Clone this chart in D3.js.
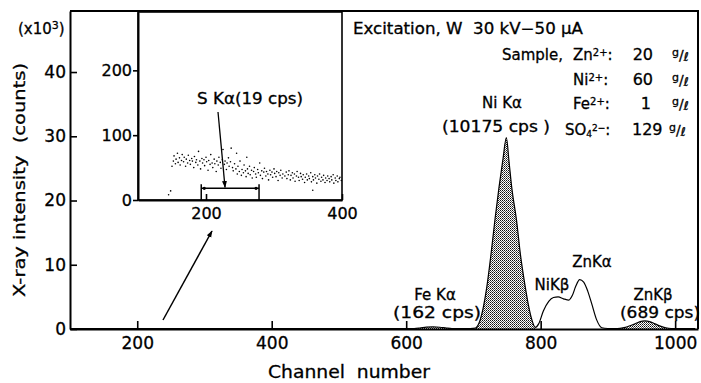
<!DOCTYPE html>
<html><head><meta charset="utf-8">
<script src="https://cdn.jsdelivr.net/npm/d3@7/dist/d3.min.js"></script>
<style>
html,body{margin:0;padding:0;background:#fff;}
svg{display:block;font-family:"DejaVu Sans",sans-serif;}
text{fill:#000;white-space:pre;stroke:#000;stroke-width:0.3px;}
</style></head><body>
<svg id="c" width="701" height="383"></svg>
<script>
// ---- data ----
const xTicks = [200, 400, 600, 800, 1000];
const yTicks = [0, 10, 20, 30, 40];
const insetXTicks = [200, 400];
const insetYTicks = [0, 100, 200];

// main spectrum: channel number vs counts (x10^3)
const channels = [100,150,200,250,300,350,400,450,500,550,600,612,620,630,640,650,660,668,680,695,
  703,710,720,726,732,738,744,749,753,757,764,770,777,782,787,792,797,804,812,819,826,834,842,847,
  852,858,864,870,876,883,891,900,910,918,926,934,942,948,955,962,970,978,986,994,1005,1020,1030];
const counts = [0.05,0.08,0.06,0.05,0.07,0.05,0.06,0.05,0.05,0.05,0.06,0.08,0.15,0.28,0.32,0.27,0.15,0.08,0.06,0.08,
  0.15,1.4,6.6,11.5,17,22,26.5,29.8,26,22,17,11.5,6.6,3.6,1.4,0.25,0.8,2.8,4.3,4.9,5.0,4.7,4.5,5.2,
  6.6,7.7,7.3,5.9,3.9,1.5,0.2,0.08,0.06,0.1,0.25,0.55,0.9,1.15,1.25,1.15,0.8,0.45,0.2,0.08,0.06,0.05,0.05];
// shaded (stippled) peaks: FeKa, NiKa, ZnKb
const shadedRanges = [[612, 668], [703, 792], [918, 994]];

// inset scatter: channel vs counts
const insetChannels = [145,148,150,152,153,155,156,158,159,161,162,164,165,167,168,170,171,173,174,176,177,179,180,182,183,185,186,188,189,191,192,194,195,197,198,200,201,203,204,206,207,209,210,212,213,215,216,218,219,221,222,224,225,227,228,230,231,233,234,236,237,239,240,
  242,244,245,246,247,249,250,252,253,255,256,258,259,260,261,262,264,265,267,268,270,271,273,274,276,277,279,280,282,283,285,286,288,289,291,292,294,295,297,298,300,301,303,304,306,307,309,310,312,313,316,318,319,321,322,324,325,327,328,330,331,333,334,336,337,339,340,342,343,345,346,348,349,351,352,354,355,357,357,358,360,361,363,364,366,367,369,370,372,373,375,376,378,379,381,382,384,385,387,388,390,391,393,394,396,397,399];
const insetCounts = [8,14,52,60,68,56,63,72,58,65,54,61,70,59,66,52,63,57,69,61,55,64,60,50,67,58,62,54,75,60,48,64,57,62,53,66,59,46,61,55,70,57,50,63,56,44,60,54,66,58,49,62,78,55,60,47,57,65,52,59,80,50,45,
  56,48,72,40,52,44,60,38,47,42,54,45,36,66,48,41,52,39,46,34,44,50,40,35,47,42,57,38,45,33,43,49,37,44,40,31,46,39,43,35,48,41,36,44,30,42,38,46,34,40,37,43,33,39,45,31,38,42,34,40,29,37,44,35,30,41,36,32,39,27,35,40,31,37,33,42,28,36,15,31,39,34,26,37,32,40,29,35,31,38,27,34,30,37,33,28,36,31,39,26,34,30,37,28,33,35,30];
const roiRange = [193, 278];

// ---- drawing ----
const svg = d3.select("#c");
const FONT = '"DejaVu Sans", sans-serif';
const x = d3.scaleLinear().domain([100, 1034]).range([70, 698]);
const y = d3.scaleLinear().domain([0, 49.5]).range([329, 11]);
const ix = d3.scaleLinear().domain([100, 400]).range([138, 342]);
const iy = d3.scaleLinear().domain([0, 290]).range([200, 12]);

const defs = svg.append("defs");
const pat = defs.append("pattern").attr("id", "stip").attr("width", 2).attr("height", 2)
  .attr("patternUnits", "userSpaceOnUse");
pat.append("rect").attr("width", 2).attr("height", 2).attr("fill", "#fff");
pat.append("rect").attr("x", 0).attr("y", 0).attr("width", 1).attr("height", 1).attr("fill", "#111");
pat.append("rect").attr("x", 1).attr("y", 1).attr("width", 1).attr("height", 1).attr("fill", "#555");
defs.append("marker").attr("id", "ah").attr("viewBox", "0 0 10 10").attr("refX", 9).attr("refY", 5)
  .attr("markerWidth", 7).attr("markerHeight", 7).attr("orient", "auto-start-reverse")
  .attr("markerUnits", "userSpaceOnUse")
  .append("path").attr("d", "M0,1.5 L10,5 L0,8.5 Z").attr("fill", "#000");

const data = channels.map((c, i) => ({c, v: counts[i]}));

// shaded areas
const area = d3.area().x(d => x(d.c)).y0(y(0)).y1(d => y(d.v)).curve(d3.curveMonotoneX);
shadedRanges.forEach(r => {
  svg.append("path").datum(data.filter(d => d.c >= r[0] && d.c <= r[1]))
    .attr("d", area).attr("fill", "url(#stip)").attr("stroke", "none");
});
// spectrum line
const line = d3.line().x(d => x(d.c)).y(d => y(d.v)).curve(d3.curveMonotoneX);
svg.append("path").datum(data).attr("d", line).attr("fill", "none").attr("stroke", "#000").attr("stroke-width", 1.2);

// main axes
function styleAxis(g, size) {
  g.attr("font-family", FONT).attr("font-size", size);
  g.select(".domain").attr("stroke-width", 2);
  g.selectAll(".tick line").attr("stroke-width", 1.6);
  g.selectAll(".tick text").attr("fill", "#000");
}
svg.append("g").attr("transform", "translate(0,329)")
  .call(d3.axisBottom(x).tickValues(xTicks).tickSize(-8).tickSizeOuter(0).tickPadding(8).tickFormat(d3.format("d")))
  .call(g => styleAxis(g, 17));
svg.append("g").attr("transform", "translate(70,0)")
  .call(d3.axisLeft(y).tickValues(yTicks).tickSize(-7).tickSizeOuter(0).tickPadding(4).tickFormat(d3.format("d")))
  .call(g => styleAxis(g, 17));
// frame top & right
svg.append("path").attr("d", `M${x.range()[0]},${y.range()[1]} H${x.range()[1]} V${y(0)}`)
  .attr("fill", "none").attr("stroke", "#000").attr("stroke-width", 2);

// inset
svg.append("rect").attr("x", ix.range()[0]).attr("y", iy.range()[1])
  .attr("width", ix.range()[1] - ix.range()[0]).attr("height", iy.range()[0] - iy.range()[1])
  .attr("fill", "#fff").attr("stroke", "#000").attr("stroke-width", 1.6);
svg.append("g").attr("transform", `translate(0,${iy(0)})`)
  .call(d3.axisBottom(ix).tickValues(insetXTicks).tickSize(-6).tickSizeOuter(0).tickPadding(8).tickFormat(d3.format("d")))
  .call(g => styleAxis(g, 16));
svg.append("g").attr("transform", `translate(${ix(100)},0)`)
  .call(d3.axisLeft(iy).tickValues(insetYTicks).tickSize(5).tickSizeOuter(0).tickPadding(1).tickFormat(d3.format("d")))
  .call(g => styleAxis(g, 16));
svg.append("g").selectAll("circle").data(insetChannels.map((c, i) => [c, insetCounts[i]]))
  .join("circle").attr("cx", d => ix(d[0])).attr("cy", d => iy(d[1])).attr("r", 0.8).attr("fill", "#000");
// ROI bracket
const by = iy(18);
svg.append("path").attr("d", `M${ix(roiRange[0])},${by} H${ix(roiRange[1])}`)
  .attr("stroke", "#000").attr("stroke-width", 1.5);
[roiRange[0], roiRange[1]].forEach(c => {
  svg.append("path").attr("d", `M${ix(c)},${by - 4} V${iy(0)}`).attr("stroke", "#000").attr("stroke-width", 1.5);
  svg.append("circle").attr("cx", ix(c) + (c === roiRange[0] ? 3 : -3)).attr("cy", by).attr("r", 1.6).attr("fill", "#000");
});
// arrows
svg.append("line").attr("x1", 218).attr("y1", 112).attr("x2", ix(228)).attr("y2", by - 1)
  .attr("stroke", "#000").attr("stroke-width", 1.3).attr("marker-end", "url(#ah)");
svg.append("line").attr("x1", 163).attr("y1", 320).attr("x2", 212).attr("y2", 231)
  .attr("stroke", "#000").attr("stroke-width", 1.5).attr("marker-end", "url(#ah)");

// ---- text ----
function rich(x0, y0, segs, size, anchor, len) {
  const t = svg.append("text").attr("x", x0).attr("y", y0).attr("font-size", size)
    .attr("font-family", FONT).attr("text-anchor", anchor || "start");
  if (len) t.attr("textLength", len).attr("lengthAdjust", "spacingAndGlyphs");
  segs.forEach(s => {
    if (typeof s === "string") s = {t: s};
    const ts = t.append("tspan").text(s.t);
    if (s.sh) ts.attr("baseline-shift", s.sh);
    if (s.fs) ts.attr("font-size", s.fs);
    if (s.dx) ts.attr("dx", s.dx);
  });
  return t;
}
// axis titles
rich(18, 34, ["(x10", {t: "3", sh: "45%", fs: 11}, ")"], 15);
svg.append("text").attr("transform", "translate(25,180) rotate(-90)").attr("text-anchor", "middle")
  .attr("font-family", FONT).attr("font-size", 16).attr("textLength", 234).attr("lengthAdjust", "spacingAndGlyphs")
  .text("X-ray intensity  (counts)");
rich(349, 378, ["Channel  number"], 17, "middle", 162);

// top-right info block
rich(353, 34, ["Excitation, W  30 kV\u221250 \u03bcA"], 15, "start", 230);
rich(563, 60, ["Sample,"], 15, "end");
const unit = [{t: "g", sh: "40%", fs: 11}, {t: "/", fs: 14}, {t: "\u2113", fs: 12, sh: "-5%"}];
rich(573, 60, ["Zn", {t: "2+", sh: "45%", fs: 10}, ":"], 15);
rich(653, 60, ["20"], 16, "end");
rich(672, 60, unit, 15);
rich(573, 85, ["Ni", {t: "2+", sh: "45%", fs: 10}, ":"], 15);
rich(653, 85, ["60"], 16, "end");
rich(672, 85, unit, 15);
rich(573, 109, ["Fe", {t: "2+", sh: "45%", fs: 10}, ":"], 15);
rich(651, 109, ["1"], 16, "end");
rich(672, 109, unit, 15);
rich(565, 135, ["SO", {t: "4", sh: "-20%", fs: 9}, {t: "2\u2212", sh: "40%", fs: 9}, ":"], 15);
rich(632, 135, ["129"], 16, "start");
rich(669, 135, unit, 15);

// peak labels
rich(502, 108, ["Ni K\u03b1"], 15, "middle");
rich(496, 132, ["(10175 cps )"], 15, "middle", 108);
rich(435, 300, ["Fe K\u03b1"], 15, "middle");
rich(437, 318, ["(162 cps)"], 15, "middle", 88);
rich(552, 290, ["NiK\u03b2"], 15, "middle");
rich(592, 267, ["ZnK\u03b1"], 15, "middle");
rich(653, 300, ["ZnK\u03b2"], 15, "middle");
rich(660, 318, ["(689 cps)"], 15, "middle", 80);
rich(250, 104, ["S K\u03b1(19 cps)"], 15, "middle", 106);
</script>
</body></html>
